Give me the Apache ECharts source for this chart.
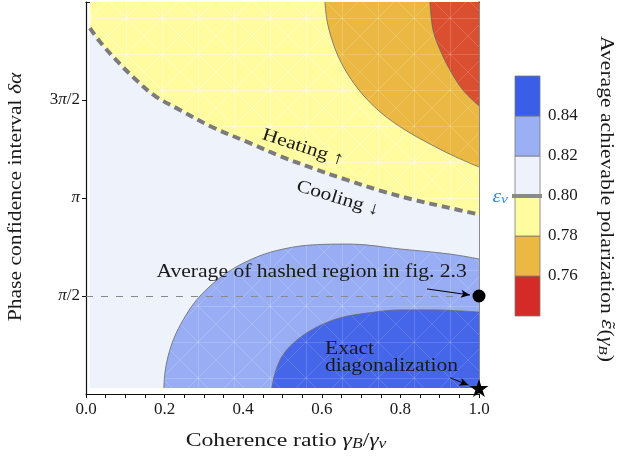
<!DOCTYPE html>
<html>
<head>
<meta charset="utf-8">
<script src="https://cdn.jsdelivr.net/npm/echarts@6/dist/echarts.min.js"></script>
<style>
  html, body { margin: 0; padding: 0; background: #ffffff; }
  #chart { width: 618px; height: 462px; }
</style>
</head>
<body>
<div id="chart"></div>
<script>
// Computed domain: x = γ_B/γ_v, y = δα in units of π
const X_MIN = 0.01, X_MAX = 1.0;
const Y_MIN = 0.03, Y_MAX = 2.0;

// Contour ε̃ = 0.80 (ε_v): heating / cooling boundary
const contour080 = [[0.010,1.867],[0.036,1.796],[0.079,1.699],[0.125,1.607],[0.176,1.520],
  [0.239,1.449],[0.323,1.360],[0.410,1.286],[0.494,1.214],[0.578,1.151],[0.664,1.092],
  [0.748,1.038],[0.832,0.992],[0.919,0.952],[1.000,0.916]];
// Contour ε̃ = 0.78
const contour078 = [[0.608,2.000],[0.613,1.908],[0.626,1.806],[0.646,1.704],[0.674,1.607],
  [0.712,1.510],[0.758,1.423],[0.812,1.347],[0.870,1.281],[0.936,1.214],[1.000,1.158]];
// Contour ε̃ = 0.76
const contour076 = [[0.875,2.000],[0.883,1.857],[0.901,1.755],[0.926,1.653],[0.959,1.551],[1.000,1.470]];
// Contour ε̃ = 0.82
const contour082 = [[0.198,0.030],[0.201,0.112],[0.209,0.194],[0.224,0.286],[0.247,0.378],
  [0.277,0.469],[0.316,0.551],[0.361,0.622],[0.417,0.684],[0.481,0.730],[0.570,0.760],
  [0.672,0.765],[0.799,0.740],[0.926,0.714],[1.000,0.689]];
// Contour ε̃ = 0.84
const contour084 = [[0.473,0.030],[0.481,0.107],[0.501,0.199],[0.537,0.276],[0.588,0.342],
  [0.646,0.388],[0.715,0.413],[0.799,0.429],[0.883,0.429],[1.000,0.418]];

// Reference points
const hashedAverage = [[1.0, 0.5]];
const exactDiag = [[1.0, 0.03]];

// Axis ticks
const yTickValues = [0.5, 1, 1.5];
const yTickLabels = ['{i|π}{n|/2}', '{i|π}', '{n|3}{i|π}{n|/2}'];

// Colour bar
const levels = [0.74, 0.76, 0.78, 0.80, 0.82, 0.84, 0.86];
const cbTickValues = [0.76, 0.78, 0.80, 0.82, 0.84];
const epsilonV = 0.80;

const bandColors = ['#d42b29', '#eab843', '#fffca0', '#eef2fb', '#9bb0f4', '#3b5ee8'];
const C = { red: '#d94f30', orange: '#eab843', yellow: '#fffc9f', pale: '#eef2fb', light: '#98adf4', dark: '#4666ea' };

const SERIF = '"Liberation Serif", "DejaVu Serif", serif';
const INK = '#1a1a1a';
const EDGE = { color: '#6a6a6a', width: 0.8 };
const STRETCH = 1.2;   // widen the Times-like face toward Computer Modern proportions

// Fill with the faint white mesh left by the triangulated contour rendering
function meshFill(color, alpha) {
  const s = 36;
  const cv = document.createElement('canvas');
  cv.width = s; cv.height = s;
  const g = cv.getContext('2d');
  g.fillStyle = color; g.fillRect(0, 0, s, s);
  g.strokeStyle = 'rgba(255,255,255,' + alpha + ')';
  g.lineWidth = 0.8;
  g.beginPath();
  g.moveTo(0, 0); g.lineTo(s, s);
  g.moveTo(0, s); g.lineTo(s, 0);
  g.moveTo(s / 2 + 0.5, 0); g.lineTo(s / 2 + 0.5, s);
  g.moveTo(0, s / 2 + 0.5); g.lineTo(s, s / 2 + 0.5);
  g.stroke();
  return { image: cv, repeat: 'repeat' };
}

const chart = echarts.init(document.getElementById('chart'), null, { renderer: 'canvas' });

function region(name, pts, fill, origin, lineStyle, z) {
  return {
    name, type: 'line', xAxisIndex: 0, yAxisIndex: 0, data: pts,
    smooth: 0.35, symbol: 'none', silent: true, z,
    lineStyle, areaStyle: { color: fill, opacity: 1, origin }
  };
}

const mathRich = {
  i: { fontFamily: SERIF, fontStyle: 'italic', fontSize: 17, color: INK },
  n: { fontFamily: SERIF, fontSize: 17, color: INK }
};

chart.setOption({
  animation: false,
  grid: [
    { left: 86, right: 139, top: 2, bottom: 68, outerBoundsMode: 'none' },
    { left: 515, width: 25, top: 76, height: 240, outerBoundsMode: 'none' }
  ],
  xAxis: [
    {
      type: 'value', gridIndex: 0, min: 0, max: 1, interval: 0.2,
      axisLine: { lineStyle: { color: '#111', width: 1.2 } },
      axisTick: { length: 4, lineStyle: { color: '#111' } },
      minorTick: { show: true, splitNumber: 4, length: 4, lineStyle: { color: '#111' } },
      splitLine: { show: false },
      axisLabel: { fontFamily: SERIF, fontSize: 17, color: INK, margin: 7, formatter: v => v.toFixed(1) }
    },
    {
      type: 'value', gridIndex: 0, min: 0, max: 1, position: 'top',
      axisLine: { onZero: false, lineStyle: { color: '#111', width: 1.2 } },
      axisTick: { show: false }, axisLabel: { show: false }, splitLine: { show: false }
    },
    { type: 'value', gridIndex: 1, min: 0, max: 1, show: false }
  ],
  yAxis: [
    {
      type: 'value', gridIndex: 0, min: 0, max: 2,
      axisLine: { show: true, onZero: false, lineStyle: { color: '#111', width: 1.2 } },
      axisTick: { show: true, length: 4, customValues: yTickValues, lineStyle: { color: '#111' } },
      splitLine: { show: false },
      axisLabel: {
        customValues: yTickValues, margin: 6,
        formatter: v => yTickLabels[yTickValues.indexOf(v)] || '',
        rich: mathRich
      }
    },
    {
      type: 'value', gridIndex: 0, min: 0, max: 2, position: 'right',
      axisLine: { show: true, onZero: false, lineStyle: { color: '#6e6e6e', width: 1.6 } },
      axisTick: { show: false }, axisLabel: { show: false }, splitLine: { show: false }
    },
    {
      type: 'value', gridIndex: 1, min: 0.74, max: 0.86, position: 'right',
      axisLine: { show: false },
      axisTick: { show: true, length: 5, customValues: cbTickValues, lineStyle: { color: '#777' } },
      splitLine: { show: false },
      axisLabel: {
        customValues: cbTickValues, margin: 8, fontFamily: SERIF, fontSize: 17, color: INK,
        formatter: v => v.toFixed(2)
      }
    }
  ],
  series: [
    // pale base of the computed domain (0.80 – 0.82)
    {
      type: 'custom', xAxisIndex: 0, yAxisIndex: 0, silent: true, z: 1,
      data: [[X_MIN, Y_MIN, X_MAX, Y_MAX]],
      renderItem: (params, api) => {
        const a = api.coord([api.value(0), api.value(3)]);
        const b = api.coord([api.value(2), api.value(1)]);
        return { type: 'rect', shape: { x: a[0], y: a[1], width: b[0] - a[0], height: b[1] - a[1] }, style: { fill: C.pale } };
      }
    },
    region('0.78–0.80', contour080, meshFill(C.yellow, 0.45), Y_MAX,
      { color: '#7b7b7b', width: 4, type: [8, 5] }, 2),
    region('0.76–0.78', contour078, meshFill(C.orange, 0.22), Y_MAX, EDGE, 3),
    region('< 0.76', contour076, meshFill(C.red, 0.2), Y_MAX, EDGE, 4),
    region('0.82–0.84', contour082, meshFill(C.light, 0.22), Y_MIN, EDGE, 3),
    region('> 0.84', contour084, meshFill(C.dark, 0.18), Y_MIN, EDGE, 4),
    // reference markers with their guide line and arrows
    {
      type: 'scatter', xAxisIndex: 0, yAxisIndex: 0, data: hashedAverage, clip: false, silent: true, z: 10,
      symbol: 'circle', symbolSize: 13, itemStyle: { color: '#000', opacity: 1 },
      markLine: {
        silent: true, animation: false, label: { show: false },
        data: [
          [{ coord: [0.0, 0.5], symbol: 'none', lineStyle: { color: '#888', width: 1.2, type: [7, 8] } },
           { coord: [0.96, 0.5], symbol: 'none' }],
          [{ coord: [0.868, 0.536], symbol: 'none', lineStyle: { color: '#000', width: 1, type: 'solid' } },
           { coord: [0.977, 0.505], symbol: 'arrow', symbolSize: [6, 9] }],
          [{ coord: [0.926, 0.083], symbol: 'none', lineStyle: { color: '#000', width: 1, type: 'solid' } },
           { coord: [0.973, 0.046], symbol: 'arrow', symbolSize: [6, 9] }]
        ]
      }
    },
    {
      type: 'scatter', xAxisIndex: 0, yAxisIndex: 0, data: exactDiag, clip: false, silent: true, z: 10,
      symbol: 'path://M50,0 L61.2,34.5 L97.6,34.5 L68.2,55.9 L79.4,90.5 L50,69.1 L20.6,90.5 L31.8,55.9 L2.4,34.5 L38.8,34.5 Z',
      symbolSize: [19, 18], itemStyle: { color: '#000', opacity: 1 }
    },
    // colour bar
    {
      type: 'custom', xAxisIndex: 2, yAxisIndex: 2, silent: true, z: 2,
      data: bandColors.map((c, i) => [levels[i], levels[i + 1], i]),
      renderItem: (params, api) => {
        const a = api.coord([0, api.value(1)]);
        const b = api.coord([1, api.value(0)]);
        return {
          type: 'rect', shape: { x: a[0], y: a[1], width: b[0] - a[0], height: b[1] - a[1] },
          style: { fill: bandColors[api.value(2)], stroke: '#7a7a7a', lineWidth: 0.8 }
        };
      }
    },
    {
      type: 'custom', xAxisIndex: 2, yAxisIndex: 2, silent: true, z: 3,
      data: [[epsilonV]],
      renderItem: (params, api) => {
        const a = api.coord([0, api.value(0)]);
        const b = api.coord([1, api.value(0)]);
        return {
          type: 'group', children: [
            { type: 'line', shape: { x1: a[0] - 3, y1: a[1], x2: b[0] + 2, y2: b[1] }, style: { stroke: '#8a8a8a', lineWidth: 4 } },
            { type: 'text', x: a[0] - 7, y: a[1] + 1, scaleX: STRETCH, style: {
                text: '{e|ε}{s|v}', align: 'right', verticalAlign: 'middle',
                rich: {
                  e: { fontFamily: SERIF, fontStyle: 'italic', fontSize: 18, fill: '#3d8ad0', verticalAlign: 'middle', lineHeight: 18 },
                  s: { fontFamily: SERIF, fontStyle: 'italic', fontSize: 13, fill: '#3d8ad0', verticalAlign: 'bottom', lineHeight: 12 }
                } } }
          ]
        };
      }
    }
  ]
});

// Text annotations placed in data coordinates
const notes = [
  { text: 'Average of hashed region in fig. 2.3', at: [0.574, 0.622], rot: 0, align: 'center' },
  { text: 'Exact\ndiagonalization', at: [0.608, 0.186], rot: 0, align: 'left' },
  { text: 'Heating ↑', at: [0.552, 1.258], rot: -18, align: 'center' },
  { text: 'Cooling ↓', at: [0.641, 0.998], rot: -17, align: 'center' }
];
const toPx = p => chart.convertToPixel({ xAxisIndex: 0, yAxisIndex: 0 }, p);

const sub = { fontFamily: SERIF, fontStyle: 'italic', fontSize: 13, fill: INK, verticalAlign: 'bottom', lineHeight: 12 };
const txt = { fontFamily: SERIF, fontSize: 18, fill: INK, verticalAlign: 'middle', lineHeight: 20 };
const ital = Object.assign({}, txt, { fontStyle: 'italic' });
const tilde = Object.assign({}, ital, { fontFamily: '"DejaVu Serif", serif', fontSize: 16 });
const txt19 = Object.assign({}, txt, { fontSize: 19 });
const ital19 = Object.assign({}, ital, { fontSize: 19 });
const sub14 = Object.assign({}, sub, { fontSize: 14 });

chart.setOption({
  graphic: notes.map(n => {
    const p = toPx(n.at);
    return {
      type: 'text', x: p[0], y: p[1], rotation: n.rot * Math.PI / 180, scaleX: STRETCH, z: 20, silent: true,
      style: { text: n.text, fontFamily: SERIF, fontSize: 18, fill: INK, align: n.align, verticalAlign: 'middle', lineHeight: 17 }
    };
  }).concat([
    {
      type: 'text', x: 286, y: 441, scaleX: 1.25, silent: true,
      style: { text: '{t|Coherence ratio }{m|γ}{s|B}{t|/}{m|γ}{s|v}', align: 'center', verticalAlign: 'middle',
        rich: { t: txt19, m: ital19, s: sub14 } }
    },
    {
      type: 'text', x: 16, y: 197, rotation: Math.PI / 2, scaleX: STRETCH, silent: true,
      style: { text: '{t|Phase confidence interval }{m|δα}', align: 'center', verticalAlign: 'middle',
        rich: { t: txt, m: ital } }
    },
    {
      type: 'text', x: 606, y: 199, rotation: -Math.PI / 2, scaleX: STRETCH, silent: true,
      style: { text: '{t|Average achievable polarization }{e|ε̃}{t|(}{m|γ}{s|B}{t|)}', align: 'center', verticalAlign: 'middle',
        rich: { t: txt, m: ital, e: tilde, s: sub } }
    }
  ])
});
</script>
</body>
</html>
